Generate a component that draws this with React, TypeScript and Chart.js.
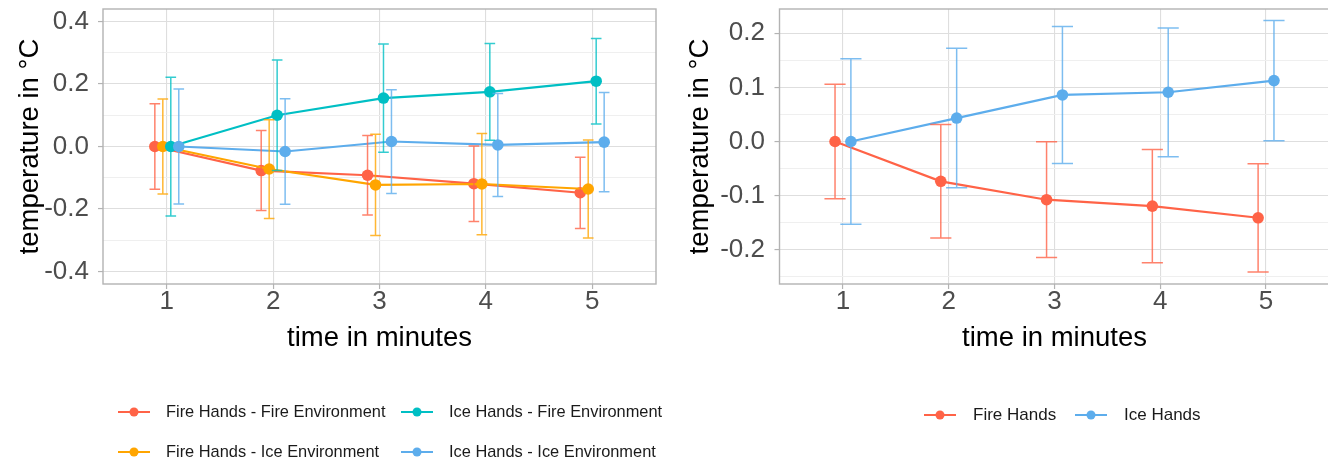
import React, { useEffect, useRef } from 'react';
import { Chart, registerables } from 'chart.js';

Chart.register(...registerables);

// ---------------- data ----------------
const timePoints = [1, 2, 3, 4, 5];
const xTickValues = [1, 2, 3, 4, 5];

const leftSeriesLabels = [
  'Fire Hands - Fire Environment',
  'Fire Hands - Ice Environment',
  'Ice Hands - Fire Environment',
  'Ice Hands - Ice Environment',
];
const fireHandsFireEnv = [0, -0.077, -0.092, -0.119, -0.148];
const fireHandsFireEnvErr = [0.137, 0.128, 0.127, 0.121, 0.114];
const fireHandsIceEnv = [0, -0.072, -0.123, -0.12, -0.136];
const fireHandsIceEnvErr = [0.152, 0.158, 0.162, 0.162, 0.157];
const iceHandsFireEnv = [0, 0.1, 0.155, 0.175, 0.209];
const iceHandsFireEnvErr = [0.222, 0.177, 0.173, 0.155, 0.137];
const iceHandsIceEnv = [0, -0.016, 0.016, 0.005, 0.014];
const iceHandsIceEnvErr = [0.184, 0.169, 0.166, 0.165, 0.159];

const rightSeriesLabels = ['Fire Hands', 'Ice Hands'];
const fireHands = [0, -0.0736, -0.1076, -0.1194, -0.141];
const fireHandsErr = [0.106, 0.105, 0.107, 0.1045, 0.1];
const iceHands = [0, 0.0433, 0.086, 0.091, 0.1126];
const iceHandsErr = [0.153, 0.129, 0.1265, 0.119, 0.111];

const leftYMajorTicks = [-0.4, -0.2, 0, 0.2, 0.4];
const leftYMinorTicks = [-0.3, -0.1, 0.1, 0.3];
const rightYMajorTicks = [-0.2, -0.1, 0, 0.1, 0.2];
const rightYMinorTicks = [-0.25, -0.15, -0.05, 0.05, 0.15];

const xAxisTitle = 'time in minutes';
const yAxisTitle = 'temperature in °C';

// ---------------- styles ----------------
const FONT = "'Liberation Sans', Arial, Helvetica, sans-serif";
const RED = '#FF6347';
const ORANGE = '#FFA500';
const TEAL = '#00BFC4';
const BLUE = '#5DADEC';
const TICK_SIZE = 26;
const TITLE_SIZE = 27.5;

const errorBarPlugin = {
  id: 'errorBars',
  afterDatasetsDraw(chart: any, _a: any, opts: any) {
    const { ctx, chartArea } = chart;
    const xs = chart.scales.x;
    const ys = chart.scales.y;
    ctx.save();
    ctx.beginPath();
    ctx.rect(chartArea.left, chartArea.top, chartArea.right - chartArea.left, chartArea.bottom - chartArea.top);
    ctx.clip();
    chart.data.datasets.forEach((ds: any) => {
      ctx.strokeStyle = ds.borderColor;
      ctx.globalAlpha = 0.8;
      ctx.lineWidth = 1.5;
      ds.data.forEach((p: any, i: number) => {
        const e = ds.errors[i];
        const x = xs.getPixelForValue(p.x);
        const xl = xs.getPixelForValue(p.x - opts.capHalf);
        const xr = xs.getPixelForValue(p.x + opts.capHalf);
        const yl = ys.getPixelForValue(p.y - e);
        const yh = ys.getPixelForValue(p.y + e);
        ctx.beginPath();
        ctx.moveTo(x, yl);
        ctx.lineTo(x, yh);
        ctx.moveTo(xl, yl);
        ctx.lineTo(xr, yl);
        ctx.moveTo(xl, yh);
        ctx.lineTo(xr, yh);
        ctx.stroke();
      });
    });
    ctx.restore();
  },
};

const boxPlugin = {
  id: 'panelBox',
  afterDraw(chart: any) {
    const { ctx, chartArea } = chart;
    ctx.save();
    ctx.strokeStyle = '#B3B3B3';
    ctx.lineWidth = 1.4;
    ctx.strokeRect(chartArea.left, chartArea.top, chartArea.right - chartArea.left, chartArea.bottom - chartArea.top);
    ctx.restore();
  },
};

const legendPlugin = {
  id: 'customLegend',
  afterDraw(chart: any, _a: any, opts: any) {
    const { ctx } = chart;
    ctx.save();
    opts.items.forEach((item: any, i: number) => {
      const ds = chart.data.datasets[i];
      const color = ds.borderColor;
      ctx.globalAlpha = 1;
      ctx.strokeStyle = color;
      ctx.lineWidth = 2;
      ctx.beginPath();
      ctx.moveTo(item.x, item.y);
      ctx.lineTo(item.x + opts.lineLength, item.y);
      ctx.stroke();
      ctx.fillStyle = color;
      ctx.beginPath();
      ctx.arc(item.x + opts.lineLength / 2, item.y, opts.dotRadius, 0, Math.PI * 2);
      ctx.fill();
      ctx.fillStyle = '#1A1A1A';
      ctx.font = `${opts.fontSize}px ${FONT}`;
      ctx.textBaseline = 'middle';
      ctx.textAlign = 'left';
      ctx.fillText(ds.label, item.x + opts.textOffset, item.y);
    });
    ctx.restore();
  },
};

function makeDataset(label: string, values: number[], errors: number[], color: string, dodge: number, order: number) {
  return {
    label,
    data: timePoints.map((t, i) => ({ x: t + dodge, y: values[i] })),
    errors,
    borderColor: color,
    backgroundColor: color,
    borderWidth: 2.2,
    pointRadius: 5.8,
    pointBorderWidth: 0,
    pointBackgroundColor: color,
    tension: 0,
    order,
  };
}

function yScale(min: number, max: number, major: number[], minor: number[], width: number, tickPad: number, titlePad: number) {
  const isMajor = (v: number) => major.some((m) => Math.abs(m - v) < 1e-9);
  return {
    type: 'linear',
    min,
    max,
    afterBuildTicks: (s: any) => {
      s.ticks = [...major, ...minor].sort((a, b) => a - b).map((v) => ({ value: v }));
    },
    afterFit: (s: any) => {
      s.width = width;
      s.paddingTop = 0;
      s.paddingBottom = 0;
    },
    ticks: {
      autoSkip: false,
      padding: tickPad,
      color: '#4D4D4D',
      font: { family: FONT, size: TICK_SIZE },
      callback: (v: any) => (isMajor(Number(v)) ? Number(v).toFixed(1) : ''),
    },
    grid: {
      color: (c: any) => (c.tick && isMajor(c.tick.value) ? '#DEDEDE' : '#EFEFEF'),
      tickColor: (c: any) => (c.tick && isMajor(c.tick.value) ? '#B3B3B3' : 'rgba(0,0,0,0)'),
      lineWidth: 1.1,
      tickLength: 5,
      tickWidth: 1.2,
    },
    border: { display: false },
    title: {
      display: true,
      text: yAxisTitle,
      color: '#000',
      font: { family: FONT, size: TITLE_SIZE },
      padding: { top: titlePad, bottom: 0 },
    },
  };
}

function xScale(height: number) {
  return {
    type: 'linear',
    min: 0.4,
    max: 5.6,
    afterBuildTicks: (s: any) => {
      s.ticks = xTickValues.map((v) => ({ value: v }));
    },
    afterFit: (s: any) => {
      s.height = height;
      s.paddingLeft = 0;
      s.paddingRight = 0;
    },
    ticks: {
      autoSkip: false,
      maxRotation: 0,
      padding: -2.6,
      color: '#4D4D4D',
      font: { family: FONT, size: TICK_SIZE },
      callback: (v: any) => String(v),
    },
    grid: {
      color: '#DEDEDE',
      tickColor: '#B3B3B3',
      lineWidth: 1.1,
      tickLength: 5,
      tickWidth: 1.2,
    },
    border: { display: false },
    title: {
      display: true,
      text: xAxisTitle,
      color: '#000',
      font: { family: FONT, size: TITLE_SIZE },
      padding: { top: 0, bottom: 8.5 },
    },
  };
}

function leftConfig(): any {
  return {
    type: 'line',
    data: {
      datasets: [
        makeDataset(leftSeriesLabels[0], fireHandsFireEnv, fireHandsFireEnvErr, RED, -0.1125, 4),
        makeDataset(leftSeriesLabels[1], fireHandsIceEnv, fireHandsIceEnvErr, ORANGE, -0.0375, 3),
        makeDataset(leftSeriesLabels[2], iceHandsFireEnv, iceHandsFireEnvErr, TEAL, 0.0375, 2),
        makeDataset(leftSeriesLabels[3], iceHandsIceEnv, iceHandsIceEnvErr, BLUE, 0.1125, 1),
      ],
    },
    options: {
      responsive: false,
      animation: false,
      events: [],
      layout: { padding: { left: 0, top: 9, right: 8, bottom: 100 } },
      scales: {
        x: xScale(79),
        y: yScale(-0.44, 0.44, leftYMajorTicks, leftYMinorTicks, 103, 9, 13.5),
      },
      plugins: {
        legend: { display: false },
        tooltip: { enabled: false },
        errorBars: { capHalf: 0.05 },
        customLegend: {
          items: [
            { x: 118, y: 412 },
            { x: 118, y: 452 },
            { x: 401, y: 412 },
            { x: 401, y: 452 },
          ],
          lineLength: 32,
          dotRadius: 4.5,
          textOffset: 48,
          fontSize: 16.4,
        },
      },
    },
    plugins: [errorBarPlugin, boxPlugin, legendPlugin],
  };
}

function rightConfig(): any {
  return {
    type: 'line',
    data: {
      datasets: [
        makeDataset(rightSeriesLabels[0], fireHands, fireHandsErr, RED, -0.075, 2),
        makeDataset(rightSeriesLabels[1], iceHands, iceHandsErr, BLUE, 0.075, 1),
      ],
    },
    options: {
      responsive: false,
      animation: false,
      events: [],
      layout: { padding: { left: 0, top: 9, right: 6.5, bottom: 100 } },
      scales: {
        x: xScale(79),
        y: yScale(-0.2634, 0.2449, rightYMajorTicks, rightYMinorTicks, 115.5, 9.5, 19.5),
      },
      plugins: {
        legend: { display: false },
        tooltip: { enabled: false },
        errorBars: { capHalf: 0.1 },
        customLegend: {
          items: [
            { x: 260, y: 415 },
            { x: 411, y: 415 },
          ],
          lineLength: 32,
          dotRadius: 4.5,
          textOffset: 49,
          fontSize: 17,
        },
      },
    },
    plugins: [errorBarPlugin, boxPlugin, legendPlugin],
  };
}

function ChartPanel(props: { makeConfig: () => any; width: number; height: number; left: number }) {
  const ref = useRef<HTMLCanvasElement>(null);
  useEffect(() => {
    const chart = new Chart(ref.current as HTMLCanvasElement, props.makeConfig());
    return () => chart.destroy();
  }, []);
  return (
    <canvas
      ref={ref}
      width={props.width}
      height={props.height}
      style={{ position: 'absolute', left: props.left, top: 0, width: props.width, height: props.height }}
    />
  );
}

export default function App() {
  return (
    <div
      style={{
        position: 'fixed',
        left: 0,
        top: 0,
        width: 1328,
        height: 463,
        overflow: 'hidden',
        background: '#ffffff',
      }}
    >
      <ChartPanel makeConfig={leftConfig} width={664} height={463} left={0} />
      <ChartPanel makeConfig={rightConfig} width={672} height={463} left={664} />
    </div>
  );
}
